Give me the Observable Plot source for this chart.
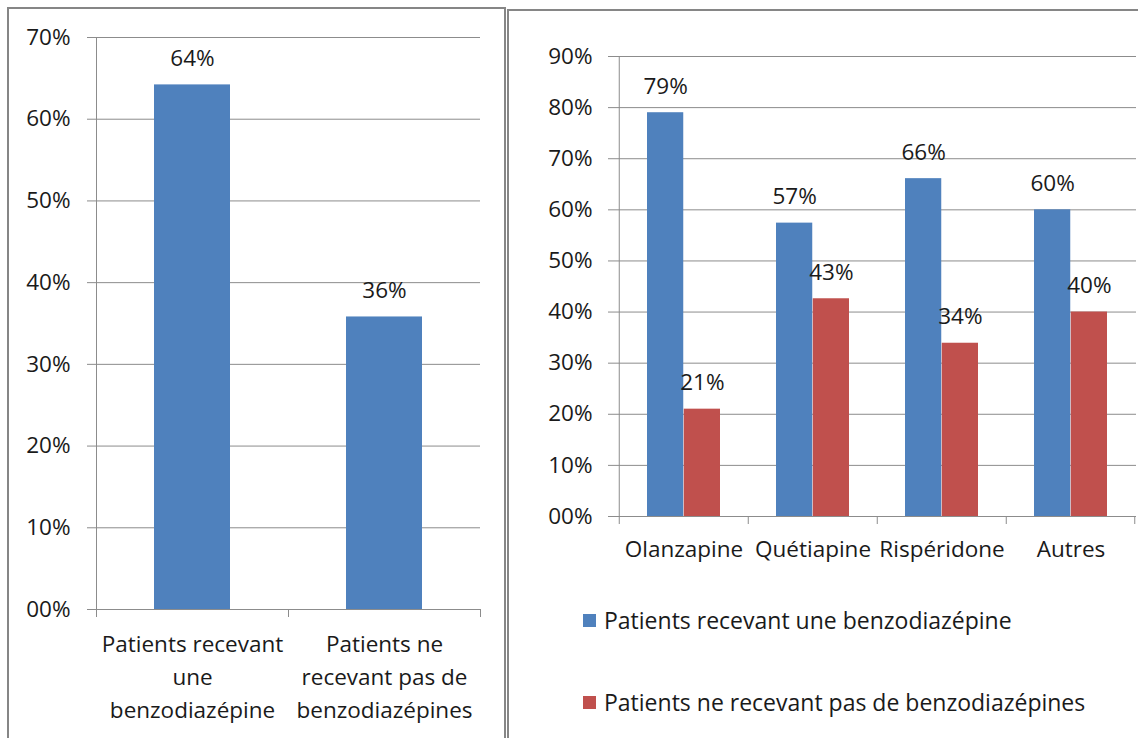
<!DOCTYPE html>
<html>
<head>
<meta charset="utf-8">
<script src="https://cdn.jsdelivr.net/npm/d3@7"></script>
<script src="https://cdn.jsdelivr.net/npm/@observablehq/plot@0.6"></script>
<style>
  html, body { margin: 0; padding: 0; background: #fff; }
  #page { position: relative; width: 1138px; height: 738px; overflow: hidden; background: #fff; font-family: "Open Sans", sans-serif; color: #1a1a1a; }
  .panel { position: absolute; border: 2px solid #868686; box-sizing: border-box; }
  #p1 { left: 7px; top: 7px; width: 499px; height: 780px; }
  #p2 { left: 507px; top: 9px; width: 700px; height: 780px; }
  #c1 { position: absolute; left: 0; top: 0; }
  #c2 { position: absolute; left: 510px; top: 0; }
  .lg { position: absolute; left: 583px; height: 24px; display: flex; align-items: center; font-size: 23px; white-space: nowrap; }
  .sw { width: 13px; height: 13px; margin-right: 8px; flex: none; }
</style>
</head>
<body>
<div id="page">
  <div class="panel" id="p1"></div>
  <div class="panel" id="p2"></div>
  <div id="c1"></div>
  <div id="c2"></div>
</div>
<script>
// ---- Data: left chart ----
const leftCategories = ["Patients recevant\nune\nbenzodiazépine", "Patients ne\nrecevant pas de\nbenzodiazépines"];
const leftValues = [0.642, 0.358];
const leftTicks = [0, 0.1, 0.2, 0.3, 0.4, 0.5, 0.6, 0.7];

// ---- Data: right chart ----
const drugs = ["Olanzapine", "Quétiapine", "Rispéridone", "Autres"];
const seriesNames = ["Patients recevant une benzodiazépine", "Patients ne recevant pas de benzodiazépines"];
const seriesColors = ["#4F81BD", "#C0504D"];
const withBenzo = [0.79, 0.574, 0.661, 0.60];
const withoutBenzo = [0.21, 0.426, 0.339, 0.40];
const rightTicks = [0, 0.1, 0.2, 0.3, 0.4, 0.5, 0.6, 0.7, 0.8, 0.9];

const pct = d => String(Math.round(d * 100)).padStart(2, "0") + "%";
const GRID = "#8c8c8c";
const TEXT = "#1a1a1a";
const FONT = "'Open Sans', sans-serif";
const FS = 22.5;

// ---------- Left chart ----------
{
  const width = 504, height = 738, mL = 96, mR = 24, mT = 37, mB = 129;
  const step = (width - mL - mR) / leftCategories.length;
  const data = leftCategories.map((c, i) => ({cat: c, value: leftValues[i]}));
  const chart = Plot.plot({
    width, height, marginLeft: mL, marginRight: mR, marginTop: mT, marginBottom: mB,
    style: {background: "transparent", fontFamily: FONT, fontSize: FS + "px", color: TEXT},
    x: {domain: leftCategories, padding: 0},
    y: {domain: [0, 0.7]},
    marks: [
      Plot.gridY({ticks: leftTicks, stroke: GRID, strokeOpacity: 1}),
      Plot.axisY({ticks: leftTicks, tickFormat: pct, tickSize: 9, tickPadding: 17, stroke: GRID, fontSize: FS, label: null}),
      Plot.barY(data, {x: "cat", y: "value", fill: seriesColors[0], insetLeft: 58, insetRight: 58}),
      Plot.text(data, {x: "cat", y: "value", text: d => pct(d.value), dy: -26, fontSize: FS, fill: TEXT}),
      Plot.ruleY([0], {stroke: GRID}),
      Plot.ruleX([leftCategories[0]], {x: d => d, dx: -step / 2, stroke: GRID}),
      Plot.ruleX(leftCategories, {x: d => d, y1: 0, y2: 0, insetBottom: -8, dx: -step / 2, stroke: GRID}),
      Plot.ruleX([leftCategories[leftCategories.length - 1]], {x: d => d, y1: 0, y2: 0, insetBottom: -8, dx: step / 2, stroke: GRID}),
      Plot.axisX({tickSize: 0, tickPadding: 19, fontSize: FS, lineHeight: 1.46, fill: TEXT, label: null})
    ]
  });
  document.getElementById("c1").appendChild(chart);
}

// ---------- Right chart ----------
{
  const width = 628, height = 580, mL = 108, mR = 2, mT = 56, mB = 64;
  const step = (width - mL - mR) / drugs.length;
  const barW = 36.75;
  const outer = step / 2 - barW;
  const blue = drugs.map((d, i) => ({drug: d, value: withBenzo[i]}));
  const red = drugs.map((d, i) => ({drug: d, value: withoutBenzo[i]}));
  const chart = Plot.plot({
    width, height, marginLeft: mL, marginRight: mR, marginTop: mT, marginBottom: mB,
    style: {background: "transparent", fontFamily: FONT, fontSize: FS + "px", color: TEXT},
    x: {domain: drugs, padding: 0},
    y: {domain: [0, 0.9]},
    marks: [
      Plot.gridY({ticks: rightTicks, stroke: GRID, strokeOpacity: 1}),
      Plot.axisY({ticks: rightTicks, tickFormat: pct, tickSize: 10, tickPadding: 16, stroke: GRID, fontSize: FS, label: null}),
      Plot.barY(blue, {x: "drug", y: "value", fill: seriesColors[0], insetLeft: outer, insetRight: step / 2}),
      Plot.barY(red, {x: "drug", y: "value", fill: seriesColors[1], insetLeft: step / 2, insetRight: outer}),
      Plot.text(blue, {x: "drug", y: "value", text: d => pct(d.value), dx: -barW / 2, dy: -26, fontSize: FS, fill: TEXT}),
      Plot.text(red, {x: "drug", y: "value", text: d => pct(d.value), dx: barW / 2, dy: -26, fontSize: FS, fill: TEXT}),
      Plot.ruleY([0], {stroke: GRID}),
      Plot.ruleX([drugs[0]], {x: d => d, dx: -step / 2, stroke: GRID}),
      Plot.ruleX(drugs, {x: d => d, y1: 0, y2: 0, insetBottom: -8, dx: -step / 2, stroke: GRID}),
      Plot.ruleX([drugs[drugs.length - 1]], {x: d => d, y1: 0, y2: 0, insetBottom: -8, dx: step / 2 - 1, stroke: GRID}),
      Plot.axisX({tickSize: 0, tickPadding: 25, fontSize: FS, fill: TEXT, label: null})
    ]
  });
  document.getElementById("c2").appendChild(chart);
}

// ---------- Legend (right chart) ----------
{
  const page = document.getElementById("page");
  const tops = [608, 690];
  seriesNames.forEach((name, i) => {
    const row = document.createElement("div");
    row.className = "lg";
    row.style.top = tops[i] + "px";
    const sw = document.createElement("span");
    sw.className = "sw";
    sw.style.background = seriesColors[i];
    const tx = document.createElement("span");
    tx.textContent = name;
    row.appendChild(sw);
    row.appendChild(tx);
    page.appendChild(row);
  });
}
</script>
</body>
</html>
